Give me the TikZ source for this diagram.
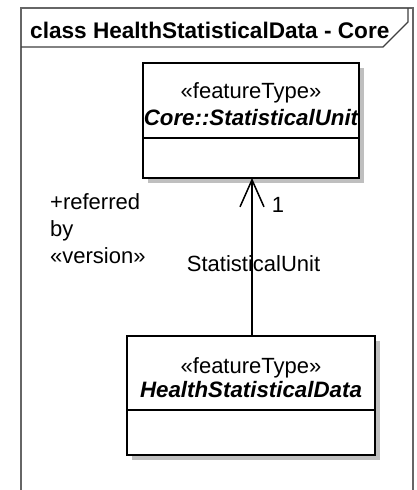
\documentclass[tikz,border=0pt]{standalone}
\usepackage{fontspec}
\setmainfont{Liberation Sans}
\usetikzlibrary{arrows.meta,shadows}
\begin{document}
\begin{tikzpicture}[x=1pt,y=-1pt,
  font=\fontsize{22}{26}\selectfont,
  txt/.style={inner sep=0pt, anchor=base},
  umlbox/.style={draw=black, line width=1.7pt, fill=white, inner sep=0pt,
    drop shadow={shadow xshift=5pt, shadow yshift=-5pt, fill=black!25, opacity=1}},
  frameline/.style={draw=black!60, line width=1.3pt},
  conn/.style={draw=black, line width=1.5pt}]
\useasboundingbox (0,0) rectangle (417,490);
\fill[white] (0,0) rectangle (417,490);
% frame
\draw[frameline] (21,492) -- (21,8) -- (413,8) -- (413,492);
\draw[draw=black!75, line width=1.1pt] (21,47) -- (383,47) -- (408,22) -- (408,8);
\node[txt, anchor=base west, font=\fontsize{22.6}{26}\selectfont\bfseries] (title) at (30,38) {class HealthStatisticalData - Core};
% upper class
\node[umlbox, minimum width=216pt, minimum height=115pt] (su) at (251,120.5) {};
\draw[line width=1.5pt] (143,138) -- (359,138);
\node[txt] (su1) at (251,98) {«featureType»};
\node[txt, font=\fontsize{22.3}{26}\selectfont\bfseries\itshape] (su2) at (251,125) {Core::StatisticalUnit};
% lower class
\node[umlbox, minimum width=248pt, minimum height=119pt] (hsd) at (251,395.5) {};
\draw[line width=1.5pt] (127,410) -- (375,410);
\node[txt] (hsd1) at (251,373) {«featureType»};
\node[txt, font=\fontsize{22.3}{26}\selectfont\bfseries\itshape] (hsd2) at (251,397.5) {HealthStatisticalData};
% connector
\coordinate (cb) at (252,336);
\coordinate (ct) at (252,178);
\draw[conn, -{Straight Barb[length=27pt, width=24pt, line width=1.5pt]}] (cb) -- (ct);
\node[txt] (mult) at (278,212.5) {1};
\node[txt] (role) at (253.5,271.5) {StatisticalUnit};
\node[txt, anchor=base west] (r1) at (50,209) {+referred};
\node[txt, anchor=base west] (r2) at (50,236.5) {by};
\node[txt, anchor=base west] (r3) at (50,263) {«version»};
\end{tikzpicture}
\end{document}
